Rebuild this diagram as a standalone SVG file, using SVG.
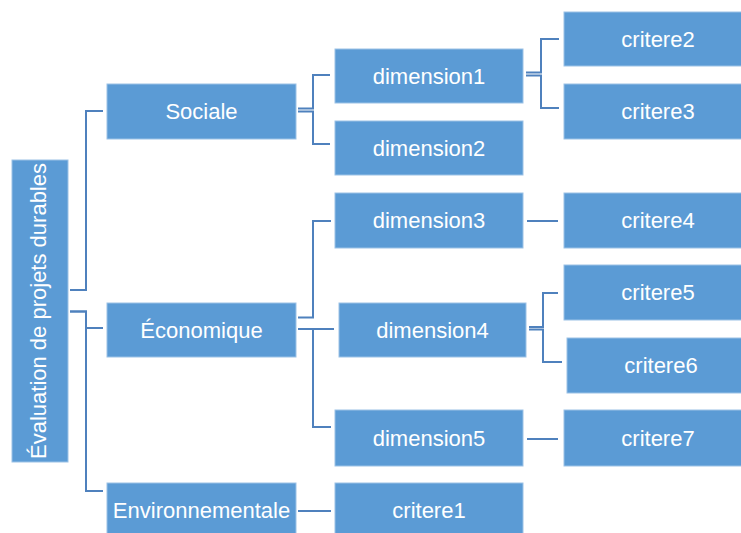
<svg xmlns="http://www.w3.org/2000/svg" width="741" height="533" viewBox="0 0 741 533">
<style>
.box{fill:#5b9bd5;stroke:#9cc2e6;stroke-width:1}
.lbl{font-family:"Liberation Sans",Arial,sans-serif;font-size:22px;fill:#ffffff;text-anchor:middle}
.con{fill:none;stroke:#4f81bd;stroke-width:2}
</style>
<rect width="741" height="533" fill="#ffffff"/>
<g id="connectors">
<path class="con" d="M70,290 H86 V111 H103"/>
<path class="con" d="M70,311.5 H86 V328 H103"/>
<path class="con" d="M70,311.5 H86 V491 H103"/>
<path class="con" d="M298,108.5 H313 V75 H330"/>
<path class="con" d="M298,111.5 H313 V144 H330"/>
<path class="con" d="M298,317.5 H313 V221 H331"/>
<path class="con" d="M298,329 H334"/>
<path class="con" d="M298,329 H313 V427 H331"/>
<path class="con" d="M298,511 H331"/>
<path class="con" d="M526,72.5 H541 V39 H559"/>
<path class="con" d="M526,75.5 H541 V108 H559"/>
<path class="con" d="M527,221 H558"/>
<path class="con" d="M529,327 H543 V293 H558"/>
<path class="con" d="M529,329.5 H543 V362 H562"/>
<path class="con" d="M527,439 H558"/>
</g>
<g id="root"><rect class="box" x="12" y="160" width="56" height="302"/><text class="lbl" transform="translate(46,311) rotate(-90)">Évaluation de projets durables</text></g>
<g id="sociale"><rect class="box" x="107" y="84" width="189" height="55"/><text class="lbl" x="201.5" y="119">Sociale</text></g>
<g id="economique"><rect class="box" x="107" y="303" width="189" height="54"/><text class="lbl" x="201.5" y="338">Économique</text></g>
<g id="environnementale"><rect class="box" x="107" y="483" width="189" height="55"/><text class="lbl" x="201.5" y="518">Environnementale</text></g>
<g id="dimension1"><rect class="box" x="335" y="49" width="188" height="54"/><text class="lbl" x="429" y="83.5">dimension1</text></g>
<g id="dimension2"><rect class="box" x="335" y="121" width="188" height="54"/><text class="lbl" x="429" y="155.5">dimension2</text></g>
<g id="dimension3"><rect class="box" x="335" y="193" width="188" height="55"/><text class="lbl" x="429" y="228">dimension3</text></g>
<g id="dimension4"><rect class="box" x="339" y="303" width="187" height="54"/><text class="lbl" x="432.5" y="337.5">dimension4</text></g>
<g id="dimension5"><rect class="box" x="335" y="410" width="188" height="56"/><text class="lbl" x="429" y="445.5">dimension5</text></g>
<g id="critere1"><rect class="box" x="335" y="483" width="188" height="55"/><text class="lbl" x="429" y="518">critere1</text></g>
<g id="critere2"><rect class="box" x="564" y="12" width="188" height="54"/><text class="lbl" x="658" y="46.5">critere2</text></g>
<g id="critere3"><rect class="box" x="564" y="84" width="188" height="55"/><text class="lbl" x="658" y="119">critere3</text></g>
<g id="critere4"><rect class="box" x="564" y="193" width="188" height="55"/><text class="lbl" x="658" y="228">critere4</text></g>
<g id="critere5"><rect class="box" x="564" y="265" width="188" height="55"/><text class="lbl" x="658" y="300">critere5</text></g>
<g id="critere6"><rect class="box" x="567" y="338" width="188" height="55"/><text class="lbl" x="661" y="373">critere6</text></g>
<g id="critere7"><rect class="box" x="564" y="410" width="188" height="56"/><text class="lbl" x="658" y="445.5">critere7</text></g>
</svg>
